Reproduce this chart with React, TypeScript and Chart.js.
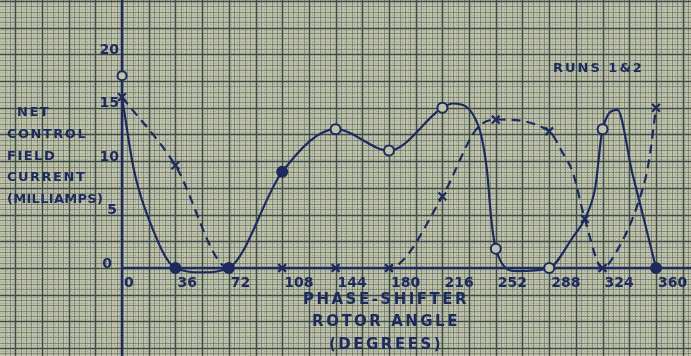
import React, { useEffect, useRef } from 'react';
import { Chart, registerables } from 'chart.js';

Chart.register(...registerables);

// ---- data ----
const TICK_ANGLES = [0, 36, 72, 108, 144, 180, 216, 252, 288, 324, 360];
const TICK_CURRENTS = [0, 5, 10, 15, 20];

// Run 1 (solid curve, circles). Extra samples trace the hand-drawn curve (no marker).
const RUN1_ANGLES = [0, 8, 18, 36, 54, 72, 108, 144, 180, 216, 223, 240, 246, 249, 252, 266, 288, 304, 312, 319, 324, 334, 344, 352, 360];
const RUN1_CURRENT = [16, 9.2, 4.6, 0, -0.4, 0, 9, 13, 11, 15, 15.4, 13.4, 9.2, 4.5, 1.8, -0.3, 0, 2.9, 4.6, 7.5, 13, 14.8, 8.9, 4.5, 0];
const RUN1_MEASURED = [0, 0, 0, 1, 0, 1, 1, 1, 1, 1, 0, 0, 0, 0, 1, 0, 1, 0, 0, 0, 1, 0, 0, 0, 1];
const RUN1_FILLED = [0, 0, 0, 1, 0, 1, 1, 0, 0, 0, 0, 0, 0, 0, 0, 0, 0, 0, 0, 0, 0, 0, 0, 0, 1];

// Isolated Run 1 reading at 0°
const RUN1_EXTRA_ANGLES = [0];
const RUN1_EXTRA_CURRENT = [18];

// Run 2 (dashed curve, crosses)
const RUN2_ANGLES = [0, 36, 72, 108, 144, 180, 216, 239, 252, 288, 297, 304, 312, 324, 334, 347, 355, 360];
const RUN2_CURRENT = [16, 9.6, 0, 0, 0, 0, 6.7, 13, 13.9, 12.8, 10.8, 8.9, 4.6, 0, 1.7, 5.7, 9.8, 15];
const RUN2_MEASURED = [1, 1, 1, 1, 1, 1, 1, 0, 1, 1, 0, 0, 1, 1, 0, 0, 0, 1];

const Y_TITLE = ['NET', 'CONTROL', 'FIELD', 'CURRENT', '(MILLIAMPS)'];
const X_TITLE = ['PHASE-SHIFTER', 'ROTOR ANGLE', '(DEGREES)'];
const NOTE = 'RUNS 1&2';

// ---- styling ----
const X_MIN = -82.25;
const X_MAX = 383.6;
const Y_MIN = -8.24;
const Y_MAX = 25.09;
const PAPER = '#c1c2aa';
const INK = '#1c2a5e';
const FONT = '"DejaVu Sans", sans-serif';

const paperPlugin = {
  id: 'paper',
  beforeDraw(chart: any) {
    const { ctx, scales } = chart;
    const x = scales.x;
    const y = scales.y;
    const W = chart.width;
    const H = chart.height;
    ctx.save();
    ctx.fillStyle = PAPER;
    ctx.fillRect(0, 0, W, H);
    const vLines = (step: number, color: string, width: number, dash: number[]) => {
      ctx.strokeStyle = color;
      ctx.lineWidth = width;
      ctx.setLineDash(dash);
      ctx.beginPath();
      for (let i = Math.ceil(X_MIN / step); i * step <= X_MAX; i++) {
        const px = Math.round(x.getPixelForValue(i * step)) + 0.5;
        ctx.moveTo(px, 0);
        ctx.lineTo(px, H);
      }
      ctx.stroke();
    };
    const hLines = (step: number, color: string, width: number, dash: number[]) => {
      ctx.strokeStyle = color;
      ctx.lineWidth = width;
      ctx.setLineDash(dash);
      ctx.beginPath();
      for (let i = Math.ceil(Y_MIN / step); i * step <= Y_MAX; i++) {
        const py = Math.round(y.getPixelForValue(i * step)) + 0.5;
        ctx.moveTo(0, py);
        ctx.lineTo(W, py);
      }
      ctx.stroke();
    };
    vLines(1.8, 'rgba(90,105,98,0.28)', 1, [1, 2]);
    hLines(0.25, 'rgba(90,105,98,0.28)', 1, [1, 2]);
    vLines(3.6, 'rgba(80,95,90,0.5)', 1, []);
    hLines(0.5, 'rgba(80,95,90,0.5)', 1, []);
    vLines(18, '#3c4c48', 1.5, []);
    hLines(2.5, '#3c4c48', 1.5, []);
    ctx.restore();
  },
  beforeDatasetsDraw(chart: any) {
    const { ctx, scales } = chart;
    const x = scales.x;
    const y = scales.y;
    const x0 = x.getPixelForValue(0);
    const y0 = y.getPixelForValue(0);
    ctx.save();
    ctx.strokeStyle = INK;
    ctx.lineWidth = 2.5;
    ctx.beginPath();
    ctx.moveTo(x0, 0);
    ctx.lineTo(x0, chart.height);
    ctx.moveTo(x0, y0);
    ctx.lineTo(chart.width, y0);
    ctx.stroke();
    ctx.restore();
  },
  afterDatasetsDraw(chart: any) {
    const { ctx, scales } = chart;
    const x = scales.x;
    const y = scales.y;
    const x0 = x.getPixelForValue(0);
    const y0 = y.getPixelForValue(0);
    ctx.save();
    ctx.fillStyle = INK;
    ctx.font = `bold 14px ${FONT}`;
    ctx.textBaseline = 'middle';
    ctx.textAlign = 'left';
    for (const a of TICK_ANGLES) {
      ctx.fillText(String(a), x.getPixelForValue(a) + 2, y0 + 15);
    }
    ctx.textAlign = 'right';
    for (const c of TICK_CURRENTS) {
      const dx = c === 0 ? 10 : c === 5 ? 5 : 3;
      ctx.fillText(String(c), x0 - dx, y.getPixelForValue(c) - 4);
    }
    // y-axis title
    ctx.textAlign = 'left';
    ctx.font = `bold 13px ${FONT}`;
    (ctx as any).letterSpacing = '1.5px';
    const yRows = [113, 135, 157, 178, 200];
    Y_TITLE.forEach((t, i) => {
      (ctx as any).letterSpacing = i === 4 ? '0.3px' : '1.5px';
      ctx.fillText(t, i === 0 ? 17 : 7, yRows[i]);
    });
    // x-axis title
    ctx.textAlign = 'center';
    ctx.font = `bold 15px ${FONT}`;
    (ctx as any).letterSpacing = '2.5px';
    const xRows = [300, 322, 345];
    X_TITLE.forEach((t, i) => ctx.fillText(t, 386, xRows[i]));
    // note
    ctx.textAlign = 'left';
    ctx.font = `bold 13px ${FONT}`;
    (ctx as any).letterSpacing = '2px';
    ctx.fillText(NOTE, 553, 69);
    ctx.restore();
  },
};

export default function App() {
  const ref = useRef<HTMLCanvasElement>(null);
  useEffect(() => {
    document.body.style.margin = '0';
    const canvas = ref.current;
    if (!canvas) return;
    const run1 = RUN1_ANGLES.map((a, i) => ({ x: a, y: RUN1_CURRENT[i] }));
    const run1Extra = RUN1_EXTRA_ANGLES.map((a, i) => ({ x: a, y: RUN1_EXTRA_CURRENT[i] }));
    const run2 = RUN2_ANGLES.map((a, i) => ({ x: a, y: RUN2_CURRENT[i] }));
    const chart = new Chart(canvas, {
      type: 'line',
      data: {
        datasets: [
          {
            label: 'Run 2',
            data: run2,
            borderColor: INK,
            borderWidth: 2.2,
            borderDash: [9, 6],
            cubicInterpolationMode: 'monotone',
            pointStyle: 'crossRot',
            pointRadius: RUN2_MEASURED.map((m) => (m ? 5.5 : 0)),
            pointBorderWidth: 2.2,
            pointBorderColor: INK,
            pointBackgroundColor: INK,
            fill: false,
          },
          {
            label: 'Run 1',
            data: run1,
            borderColor: INK,
            borderWidth: 2.2,
            cubicInterpolationMode: 'monotone',
            pointStyle: 'circle',
            pointRadius: RUN1_MEASURED.map((m) => (m ? 5 : 0)),
            pointBorderWidth: 2,
            pointBorderColor: INK,
            pointBackgroundColor: RUN1_FILLED.map((f) => (f ? INK : PAPER)),
            fill: false,
          },
          {
            label: 'Run 1 (0°)',
            data: run1Extra,
            showLine: false,
            pointStyle: 'circle',
            pointRadius: 4.5,
            pointBorderWidth: 2,
            pointBorderColor: INK,
            pointBackgroundColor: PAPER,
          },
        ],
      },
      options: {
        responsive: false,
        animation: false,
        layout: { padding: 0, autoPadding: false },
        plugins: { legend: { display: false }, tooltip: { enabled: false }, title: { display: false } },
        scales: {
          x: { type: 'linear', min: X_MIN, max: X_MAX, display: false },
          y: { type: 'linear', min: Y_MIN, max: Y_MAX, display: false },
        },
      },
      plugins: [paperPlugin],
    });
    return () => chart.destroy();
  }, []);
  return (
    <div style={{ position: 'fixed', left: 0, top: 0, width: 691, height: 356 }}>
      <canvas ref={ref} width={691} height={356} />
    </div>
  );
}
